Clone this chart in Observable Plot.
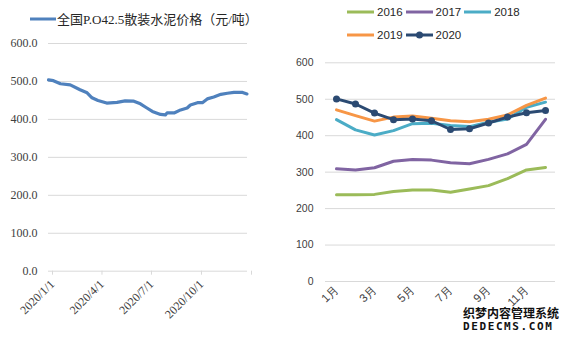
<!DOCTYPE html>
<html><head><meta charset="utf-8">
<script src="https://cdn.jsdelivr.net/npm/d3@7"></script>
<script src="https://cdn.jsdelivr.net/npm/@observablehq/plot@0.6"></script>
<style>
body{margin:0;background:#fff;width:574px;height:341px;overflow:hidden;position:relative;}
.abs{position:absolute;white-space:nowrap;}
.lg{display:flex;align-items:center;}
</style></head><body>
<div id="leftLegend" class="abs lg" style="left:30px;top:9px;font:13px 'Liberation Serif','Noto Sans CJK SC',serif;color:#262626;"></div>
<div id="leftChart" class="abs" style="left:0;top:30px;"></div>
<div id="rightLegend1" class="abs lg" style="left:347px;top:6px;font:11.5px 'Liberation Sans',Arial,sans-serif;color:#262626;"></div>
<div id="rightLegend2" class="abs lg" style="left:347px;top:29px;font:11.5px 'Liberation Sans',Arial,sans-serif;color:#262626;"></div>
<div id="rightChart" class="abs" style="left:290px;top:50px;"></div>
<div class="abs" style="left:463px;top:304px;font:bold 12px 'Noto Sans CJK SC',sans-serif;color:#111;text-shadow:0 0 2px #fff,0 0 2px #fff;">织梦内容管理系统</div>
<div class="abs" style="left:463px;top:320px;font:bold 11px 'DejaVu Sans Mono',monospace;letter-spacing:1.6px;color:#111;text-shadow:0 0 2px #fff,0 0 2px #fff;">DEDECMS.COM</div>
<script>
// ---- left chart data ----
const seriesName = "全国P.O42.5散装水泥价格（元/吨）";
const priceDates = ["2020-01-01","2020-01-10","2020-01-23","2020-02-10","2020-02-28","2020-03-12","2020-03-21","2020-04-01","2020-04-17","2020-05-06","2020-05-21","2020-06-06","2020-06-18","2020-06-30","2020-07-10","2020-07-25","2020-08-03","2020-08-06","2020-08-19","2020-08-31","2020-09-12","2020-09-18","2020-10-01","2020-10-10","2020-10-19","2020-10-31","2020-11-13","2020-11-25","2020-12-07","2020-12-23","2020-12-31"];
const priceValues = [504,502,494,491,478,470,457,450,443,445,449,448,441,430,421,413,412,417,417,425,430,438,444,444,454,459,466,469,471,471,467];
const leftTickDates = ["2020-01-01","2020-04-01","2020-07-01","2020-10-01","2021-01-01"];
const leftYTicks = [0,100,200,300,400,500,600];

// ---- right chart data ----
const months = ["1月","2月","3月","4月","5月","6月","7月","8月","9月","10月","11月","12月"];
const monthLabels = ["1月","3月","5月","7月","9月","11月"];
const years = ["2016","2017","2018","2019","2020"];
const v2016 = [238,238,239,247,251,251,245,254,263,282,306,313];
const v2017 = [309,306,312,330,335,333,326,323,335,350,376,445];
const v2018 = [444,416,402,414,433,434,428,425,437,446,478,492];
const v2019 = [471,455,440,451,454,448,441,438,445,457,483,503];
const v2020 = [501,487,462,444,446,441,417,419,435,451,463,469];
const rightYTicks = [0,100,200,300,400,500,600];

const colors = {"2016":"#9bbb59","2017":"#8064a2","2018":"#4bacc6","2019":"#f79646","2020":"#2b4a72"};
const leftColor = "#4f81bd";

// legends
const sw = (c, dot) => `<svg width="27" height="8" style="margin-right:3px"><line x1="0" x2="27" y1="4" y2="4" stroke="${c}" stroke-width="3"/>${dot?`<circle cx="13.5" cy="4" r="3.5" fill="${c}"/>`:""}</svg>`;
document.getElementById("leftLegend").innerHTML = `<svg width="26" height="8" style="margin-right:1px"><line x1="0" x2="26" y1="4" y2="4" stroke="${leftColor}" stroke-width="3"/></svg><span>${seriesName}</span>`;
document.getElementById("rightLegend1").innerHTML = years.slice(0,3).map(y=>`${sw(colors[y])}<span style="margin-right:3px">${y}</span>`).join("");
document.getElementById("rightLegend2").innerHTML = years.slice(3).map(y=>`${sw(colors[y], y==="2020")}<span style="margin-right:3px">${y}</span>`).join("");

// left chart
const parse = d3.utcParse("%Y-%m-%d");
const priceData = priceDates.map((d,i)=>({date:parse(d), value:priceValues[i]}));
const fmtDate = d3.utcFormat("%Y/%-m/%-d");
const lastTick = parse(leftTickDates[leftTickDates.length-1]);
const left = Plot.plot({
  width:290, height:311, marginTop:13, marginBottom:70.3, marginLeft:48, marginRight:43,
  style:{fontFamily:"'Liberation Serif','Times New Roman',serif", fontSize:"12px", color:"#404040", background:"transparent"},
  x:{type:"utc", domain:[parse("2020-01-01"), lastTick]},
  y:{domain:[0,600]},
  marks:[
    Plot.gridY(leftYTicks.slice(1), {stroke:"#d9d9d9", strokeOpacity:1, strokeWidth:1}),
    Plot.ruleY([0], {stroke:"#d9d9d9"}),
    Plot.axisY({ticks:leftYTicks, tickFormat:d=>d.toFixed(1), tickSize:0, tickPadding:11, fill:"#404040", fontSize:12, label:null}),
    Plot.axisX({ticks:leftTickDates.map(parse), tickFormat:d=>(+d===+lastTick?"":fmtDate(d)), tickSize:4, stroke:"#d9d9d9", tickRotate:-45, tickPadding:7, dx:4, fill:"#404040", fontSize:12, label:null}),
    Plot.line(priceData, {x:"date", y:"value", stroke:leftColor, strokeWidth:3.2, strokeLinejoin:"round"})
  ]
});
document.getElementById("leftChart").append(left);

// right chart
const allSeries = [v2016,v2017,v2018,v2019,v2020];
const rows = years.flatMap((yr,i)=>months.map((m,j)=>({year:yr, month:m, value:allSeries[i][j]})));
const right = Plot.plot({
  width:284, height:291, marginTop:12.3, marginBottom:60, marginLeft:35, marginRight:19,
  style:{fontFamily:"'Liberation Sans',Arial,sans-serif", fontSize:"11px", color:"#404040", background:"transparent"},
  x:{type:"point", domain:months, padding:0.5},
  y:{domain:[0,600]},
  marks:[
    Plot.gridY(rightYTicks, {stroke:"#d9d9d9", strokeOpacity:1, strokeWidth:1}),
    Plot.axisY({ticks:rightYTicks, tickSize:0, tickPadding:12, fill:"#404040", fontSize:10.5, label:null}),
    Plot.axisX({ticks:monthLabels, tickSize:0, tickRotate:-45, tickPadding:6, fill:"#404040", fontSize:11.5, label:null}),
    ...years.map(yr=>Plot.line(rows.filter(r=>r.year===yr), {x:"month", y:"value", stroke:colors[yr], strokeWidth:3, strokeLinejoin:"round"})),
    Plot.dot(rows.filter(r=>r.year==="2020"), {x:"month", y:"value", r:3.5, fill:colors["2020"]})
  ]
});
document.getElementById("rightChart").append(right);
</script>
</body></html>
